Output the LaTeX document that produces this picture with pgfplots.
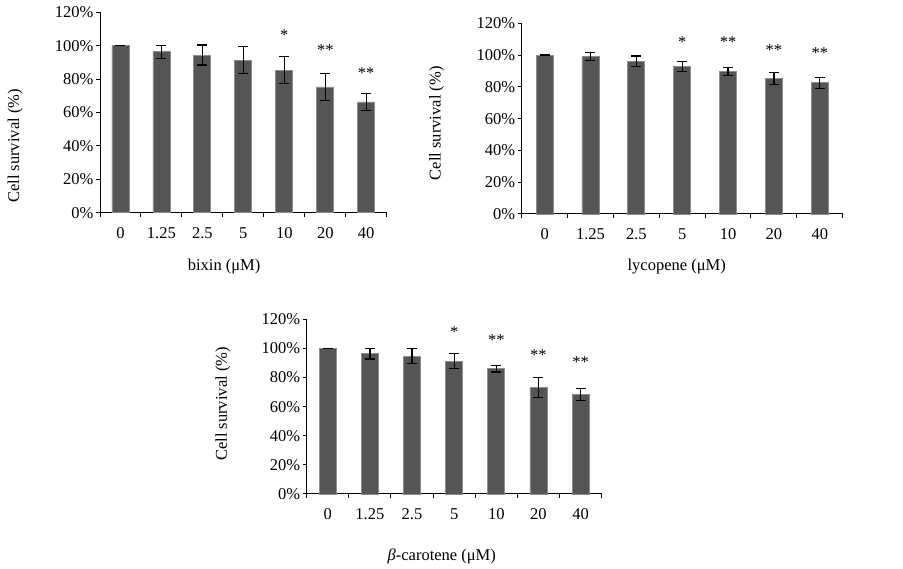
\documentclass[border=0pt]{standalone}
\usepackage{fontspec}
\setmainfont{Liberation Serif}
\usepackage{pgfplots}
\pgfplotsset{compat=1.18}
\definecolor{barfill}{HTML}{555555}
\definecolor{baredge}{HTML}{8C8C8C}
\newcommand{\fs}{\fontsize{16.5}{19}\selectfont}
\pgfplotsset{
  panel/.style={
    scale only axis,
    anchor=south west,
    axis lines*=left,
    axis line style={line width=1pt, black},
    xmin=0.5, xmax=7.5, ymin=0, ymax=120,
    xtick={1,...,7},
    xticklabels={0,1.25,2.5,5,10,20,40},
    minor xtick={0.5,1.5,...,7.5},
    major x tick style={draw=none},
    minor x tick style={line width=1pt, black},
    y tick style={line width=1pt, black},
    ytick={0,20,...,120},
    yticklabels={0\%,20\%,40\%,60\%,80\%,100\%,120\%},
    tick align=outside,
    major tick length=4pt,
    minor tick length=4pt,
    tick label style={font=\fs},
    yticklabel style={xshift=1pt},
    xticklabel style={yshift=-7pt},
    label style={font=\fs},
    clip=false,
  },
  bars/.style={
    ybar, bar width=17pt, fill=barfill, draw=baredge, line width=0.8pt,
    error bars/.cd, y dir=both, y explicit,
    error bar style={line width=1.2pt, black},
    error mark options={rotate=90, mark size=5pt, line width=1.2pt, black},
  },
  stars/.style={
    draw=none, mark=none, nodes near coords, point meta=explicit symbolic,
    nodes near coords style={font=\fs, anchor=center, yshift=-2pt},
  },
}
\pgfplotstableread{
x y e
1 100 0
2 96.3 3.9
3 94.4 6
4 91.3 8
5 85.3 8
6 75.3 8.2
7 66.3 4.9
}\bixin
\pgfplotstableread{
x s t
5 107.4 *
6 98.4 **
7 84.5 **
}\bixinstars
\pgfplotstableread{
x y e
1 100 0
2 99 2.5
3 96.1 3.3
4 93 3.2
5 89.5 2.5
6 85.2 3.9
7 82.5 3.3
}\lyco
\pgfplotstableread{
x s t
4 109.5 *
5 109.5 **
6 104.3 **
7 102.2 **
}\lycostars
\pgfplotstableread{
x y e
1 100 0
2 96.4 3.7
3 94.7 5.3
4 91.3 5.3
5 86.1 2.3
6 73.2 6.8
7 68.4 4
}\beta
\pgfplotstableread{
x s t
4 112.7 *
5 106.9 **
6 96.6 **
7 92 **
}\betastars
\begin{document}
\begin{tikzpicture}
\useasboundingbox (0pt,0pt) rectangle (903pt,569pt);
% bixin
\begin{axis}[panel, at={(100pt,356.3pt)}, width=286.7pt, height=200.4pt,
  xlabel={bixin (μM)}, ylabel={Cell survival (\%)},
  xlabel style={at={(axis description cs:0.433,-0.271)}, anchor=center},
  ylabel style={at={(axis description cs:-0.296,0.333)}, anchor=center}]
\addplot[bars] table[x=x, y=y, y error=e] {\bixin};
\addplot[stars] table[x=x, y=s, meta=t] {\bixinstars};
\end{axis}
% lycopene
\begin{axis}[panel, at={(521.7pt,355pt)}, width=321pt, height=190.7pt,
  xlabel={lycopene (μM)}, ylabel={Cell survival (\%)},
  xlabel style={at={(axis description cs:0.483,-0.276)}, anchor=center},
  ylabel style={at={(axis description cs:-0.265,0.476)}, anchor=center}]
\addplot[bars] table[x=x, y=y, y error=e] {\lyco};
\addplot[stars] table[x=x, y=s, meta=t] {\lycostars};
\end{axis}
% beta-carotene
\begin{axis}[panel, at={(306.7pt,75pt)}, width=295pt, height=174.7pt,
  xlabel={{\itshape β}-carotene (μM)}, ylabel={Cell survival (\%)},
  xlabel style={at={(axis description cs:0.458,-0.359)}, anchor=center},
  ylabel style={at={(axis description cs:-0.284,0.515)}, anchor=center}]
\addplot[bars] table[x=x, y=y, y error=e] {\beta};
\addplot[stars] table[x=x, y=s, meta=t] {\betastars};
\end{axis}
\end{tikzpicture}
\end{document}
